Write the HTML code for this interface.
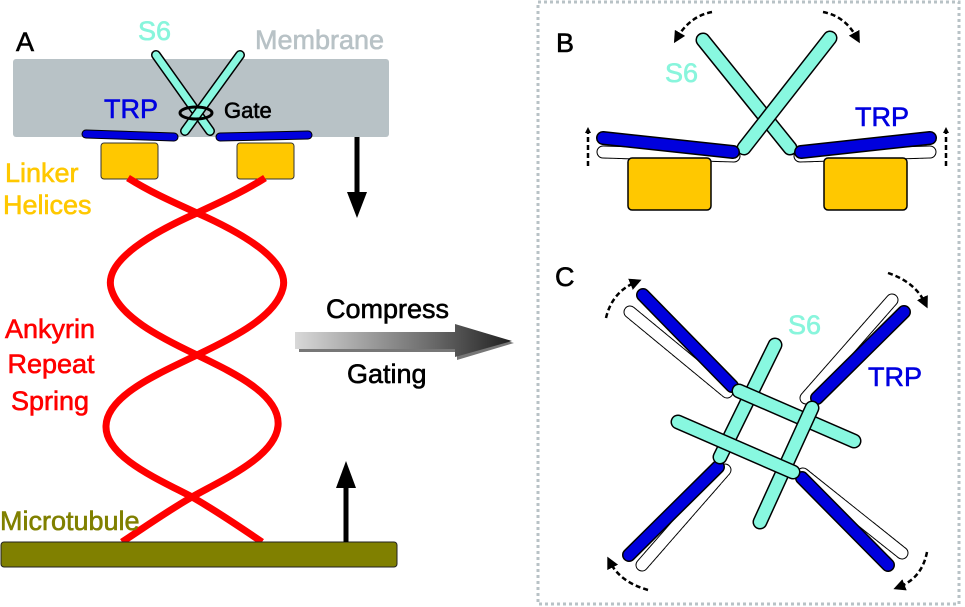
<!DOCTYPE html>
<html><head><meta charset="utf-8"><style>
html,body{margin:0;padding:0;background:#fff;}
svg{display:block;}
text{font-family:"Liberation Sans",Arial,sans-serif;font-size:27px;stroke-width:0.6px;}
</style></head><body>
<svg width="965" height="607" viewBox="0 0 965 607" xmlns="http://www.w3.org/2000/svg">
<defs>
<linearGradient id="g" x1="0" x2="1" y1="0" y2="0">
<stop offset="0" stop-color="#d8d8d8"/><stop offset="0.6" stop-color="#707070"/><stop offset="1" stop-color="#202020"/>
</linearGradient>
<marker id="ah" viewBox="0 0 10 10" refX="5" refY="5" markerWidth="6" markerHeight="6" orient="auto" markerUnits="userSpaceOnUse"><path d="M0,0 L10,5 L0,10 z" fill="#000"/></marker>
<marker id="ah2" viewBox="0 0 10 10" refX="5" refY="5" markerWidth="12" markerHeight="12" orient="auto" markerUnits="userSpaceOnUse"><path d="M0,0 L10,5 L0,10 z" fill="#000"/></marker>
</defs>
<!-- Panel A -->
<rect x="13" y="59" width="376" height="78" rx="3" fill="#b8c2c6"/>
<text x="16" y="51" fill="#000" stroke="#000" stroke-width="0.3">A</text>
<text x="138" y="40" fill="#88f5dc" stroke="#88f5dc">S6</text>
<text x="255" y="49" fill="#b8c2c6" stroke="#b8c2c6">Membrane</text>
<g stroke-linecap="round">
<line x1="156" y1="55" x2="210" y2="131" stroke="#000" stroke-width="10"/>
<line x1="156" y1="55" x2="210" y2="131" stroke="#88f8e0" stroke-width="7"/>
<line x1="240" y1="55" x2="185" y2="131" stroke="#000" stroke-width="10"/>
<line x1="240" y1="55" x2="185" y2="131" stroke="#88f8e0" stroke-width="7"/>
</g>
<ellipse cx="196" cy="113" rx="16" ry="6" fill="none" stroke="#000" stroke-width="3"/>
<text x="224" y="118" fill="#000" style="font-size:22px" stroke="#000" stroke-width="0.3">Gate</text>
<text x="104" y="118" fill="#0000e0" stroke="#0000e0">TRP</text>
<g stroke-linecap="round">
<line x1="86" y1="134" x2="174" y2="137" stroke="#000" stroke-width="9"/>
<line x1="86" y1="134" x2="174" y2="137" stroke="#0000dd" stroke-width="7"/>
<line x1="220" y1="137" x2="308" y2="135" stroke="#000" stroke-width="9"/>
<line x1="220" y1="137" x2="308" y2="135" stroke="#0000dd" stroke-width="7"/>
</g>
<rect x="101" y="143" width="57" height="36" rx="3" fill="#ffc800" stroke="#333" stroke-width="1"/>
<rect x="237" y="143" width="57" height="36" rx="3" fill="#ffc800" stroke="#333" stroke-width="1"/>
<text x="5" y="182" fill="#ffc800" stroke="#ffc800">Linker</text>
<text x="3" y="214" fill="#ffc800" stroke="#ffc800">Helices</text>
<!-- spring -->
<g fill="none" stroke="#ff0000" stroke-width="7" stroke-linejoin="round">
<path d="M128,178 C150,192 175,203 197,213 C240,232 290,260 283,288 C276,316 235,337 197,355 C160,373 107,395 106,426 C105,457 160,480 192,497 C215,510 240,527 262,542"/>
<path d="M265,178 C243,192 218,203 197,213 C154,232 104,260 111,288 C118,316 159,337 197,355 C234,373 281,395 278,426 C275,457 222,480 192,497 C169,510 145,527 122,542"/>
</g>
<text x="50" y="338" fill="#ff0000" stroke="#ff0000" text-anchor="middle">Ankyrin</text>
<text x="51" y="373" fill="#ff0000" stroke="#ff0000" text-anchor="middle">Repeat</text>
<text x="50" y="410" fill="#ff0000" stroke="#ff0000" text-anchor="middle">Spring</text>
<rect x="1" y="542" width="396" height="25" rx="3" fill="#808000" stroke="#222" stroke-width="1"/>
<text x="0" y="530" fill="#808000" stroke="#808000">Microtubule</text>
<!-- vertical arrows -->
<line x1="357" y1="137" x2="357" y2="195" stroke="#000" stroke-width="5"/>
<path d="M347,192 L367,192 L357,218 z" fill="#000"/>
<line x1="346" y1="542" x2="346" y2="485" stroke="#000" stroke-width="5"/>
<path d="M336,488 L356,488 L346,461 z" fill="#000"/>
<!-- gradient arrow -->
<path d="M297,334 L455,334 L455,324 L512,341 L455,358 L455,350 L297,350 z" fill="#777" transform="translate(2,2)"/>
<path d="M295,332 L455,332 L455,324 L512,341 L455,357 L455,349 L295,349 z" fill="url(#g)"/>
<text x="326" y="318" fill="#000" stroke="#000" stroke-width="0.3">Compress</text>
<text x="347" y="383" fill="#000" stroke="#000" stroke-width="0.3">Gating</text>
<!-- right panel border -->
<rect x="538" y="2" width="421" height="602" fill="none" stroke="#b8c2c6" stroke-width="3" stroke-dasharray="3,3"/>
<!-- Panel B -->
<text x="556" y="52" fill="#000" stroke="#000" stroke-width="0.3">B</text>
<text x="665" y="82" fill="#88f5dc" stroke="#88f5dc">S6</text>
<text x="855" y="126" fill="#0000e0" stroke="#0000e0">TRP</text>
<g stroke-linecap="round">
<line x1="603" y1="152" x2="734" y2="156" stroke="#000" stroke-width="13" stroke-dasharray="3,2"/>
<line x1="603" y1="152" x2="734" y2="156" stroke="#fff" stroke-width="11"/>
<line x1="800" y1="156" x2="930" y2="152" stroke="#000" stroke-width="13" stroke-dasharray="3,2"/>
<line x1="800" y1="156" x2="930" y2="152" stroke="#fff" stroke-width="11"/>
<line x1="703" y1="40" x2="790" y2="148" stroke="#000" stroke-width="15"/>
<line x1="703" y1="40" x2="790" y2="148" stroke="#88f8e0" stroke-width="12"/>
<line x1="830" y1="38" x2="744" y2="148" stroke="#000" stroke-width="15"/>
<line x1="830" y1="38" x2="744" y2="148" stroke="#88f8e0" stroke-width="12"/>
<line x1="603" y1="138" x2="733" y2="152" stroke="#000" stroke-width="14"/>
<line x1="603" y1="138" x2="733" y2="152" stroke="#0000dd" stroke-width="11"/>
<line x1="801" y1="152" x2="930" y2="138" stroke="#000" stroke-width="14"/>
<line x1="801" y1="152" x2="930" y2="138" stroke="#0000dd" stroke-width="11"/>
</g>
<rect x="628" y="158" width="83" height="52" rx="4" fill="#ffc800" stroke="#000" stroke-width="1.5"/>
<rect x="824" y="158" width="83" height="52" rx="4" fill="#ffc800" stroke="#000" stroke-width="1.5"/>
<g fill="none" stroke="#000" stroke-width="2.5" stroke-dasharray="5,3">
<line x1="588" y1="166" x2="588" y2="130" marker-end="url(#ah)"/>
<line x1="946" y1="166" x2="946" y2="130" marker-end="url(#ah)"/>
<path d="M712,12 Q690,16 677,38" marker-end="url(#ah2)"/>
<path d="M823,12 Q845,16 857,38" marker-end="url(#ah2)"/>
</g>
<!-- Panel C -->
<text x="555" y="286" fill="#000" stroke="#000" stroke-width="0.3">C</text>
<text x="788" y="334" fill="#88f5dc" stroke="#88f5dc">S6</text>
<text x="868" y="386" fill="#0000e0" stroke="#0000e0">TRP</text>
<g stroke-linecap="round">
<g stroke="#000" stroke-width="13" stroke-dasharray="3,2">
<line x1="630" y1="312" x2="727" y2="392"/><line x1="892" y1="300" x2="806" y2="398"/>
<line x1="642" y1="565" x2="725" y2="470"/><line x1="803" y1="474" x2="902" y2="553"/>
</g>
<g stroke="#fff" stroke-width="11">
<line x1="630" y1="312" x2="727" y2="392"/><line x1="892" y1="300" x2="806" y2="398"/>
<line x1="642" y1="565" x2="725" y2="470"/><line x1="803" y1="474" x2="902" y2="553"/>
</g>
<g stroke="#000" stroke-width="14">
<line x1="643" y1="295" x2="732" y2="386"/><line x1="904" y1="312" x2="817" y2="398"/>
<line x1="629" y1="555" x2="718" y2="467"/><line x1="802" y1="478" x2="888" y2="565"/>
</g>
<g stroke="#0000dd" stroke-width="11">
<line x1="643" y1="295" x2="732" y2="386"/><line x1="904" y1="312" x2="817" y2="398"/>
<line x1="629" y1="555" x2="718" y2="467"/><line x1="802" y1="478" x2="888" y2="565"/>
</g>
<line x1="775" y1="345" x2="720" y2="457" stroke="#000" stroke-width="15"/>
<line x1="775" y1="345" x2="720" y2="457" stroke="#88f8e0" stroke-width="12"/>
<line x1="739" y1="391" x2="854" y2="441" stroke="#000" stroke-width="15"/>
<line x1="739" y1="391" x2="854" y2="441" stroke="#88f8e0" stroke-width="12"/>
<line x1="812" y1="408" x2="760" y2="522" stroke="#000" stroke-width="15"/>
<line x1="812" y1="408" x2="760" y2="522" stroke="#88f8e0" stroke-width="12"/>
<line x1="678" y1="422" x2="793" y2="472" stroke="#000" stroke-width="15"/>
<line x1="678" y1="422" x2="793" y2="472" stroke="#88f8e0" stroke-width="12"/>
</g>
<g fill="none" stroke="#000" stroke-width="2.5" stroke-dasharray="5,3">
<path d="M606,318 Q612,292 636,282" marker-end="url(#ah2)"/>
<path d="M888,273 Q915,282 925,303" marker-end="url(#ah2)"/>
<path d="M648,590 Q620,582 610,562" marker-end="url(#ah2)"/>
<path d="M927,552 Q922,578 899,587" marker-end="url(#ah2)"/>
</g>
</svg>
</body></html>
